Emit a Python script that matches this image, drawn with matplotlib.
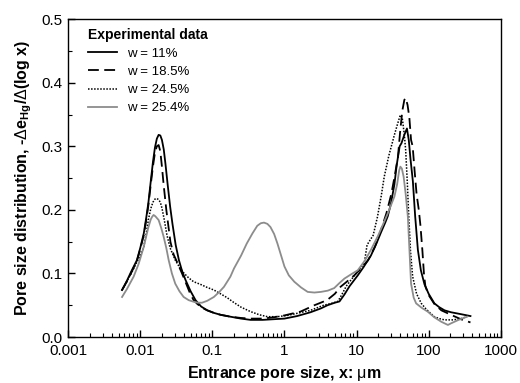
import numpy as np
import matplotlib.pyplot as plt
from matplotlib.ticker import LogLocator, MultipleLocator, FixedLocator

plt.rcParams['font.family'] = ['Liberation Sans', 'DejaVu Sans']
plt.rcParams['mathtext.fontset'] = 'custom'
plt.rcParams['mathtext.rm'] = 'Liberation Sans'
plt.rcParams['mathtext.bf'] = 'Liberation Sans:bold'

# w = 11%
x_11 = [0.0056, 0.0065, 0.0075, 0.0090, 0.0100, 0.0112, 0.0122, 0.0130, 0.0140, 0.0150,
        0.0160, 0.0170, 0.0180, 0.0190, 0.0200, 0.0212, 0.0224, 0.0240, 0.0260, 0.0280,
        0.0310, 0.0344, 0.0380, 0.0424, 0.050, 0.0585, 0.070, 0.085, 0.105, 0.130, 0.178,
        0.25, 0.339, 0.5, 0.7, 1.0, 1.5, 2.3, 3.2, 3.95, 5.0, 5.8, 6.8, 8.0, 10.4, 12.5,
        15.8, 19, 21.9, 25, 27.1, 30, 33.5, 36, 39.6, 42, 46, 50, 53, 56, 60.4, 65, 70.9,
        78, 87.5, 100, 120, 140, 166, 204, 280, 380]
y_11 = [0.074, 0.088, 0.103, 0.121, 0.140, 0.163, 0.190, 0.212, 0.245, 0.275,
        0.298, 0.312, 0.318, 0.317, 0.310, 0.295, 0.272, 0.240, 0.205, 0.178,
        0.145, 0.121, 0.104, 0.090, 0.072, 0.058, 0.048, 0.042, 0.038, 0.035, 0.032,
        0.029, 0.027, 0.027, 0.028, 0.029, 0.033, 0.039, 0.045, 0.050, 0.054, 0.056, 0.067, 0.080, 0.097, 0.110,
        0.128, 0.148, 0.165, 0.180, 0.190, 0.210, 0.240, 0.270, 0.300, 0.305, 0.318, 0.328, 0.310, 0.280, 0.245, 0.190, 0.137,
        0.105, 0.083, 0.068, 0.053, 0.047, 0.042, 0.039, 0.036, 0.033]

# w = 18.5%
x_185 = [0.0056, 0.0065, 0.0075, 0.009, 0.010, 0.0112, 0.0122, 0.013, 0.014, 0.015,
         0.016, 0.017, 0.018, 0.019, 0.020, 0.0211, 0.023, 0.0262, 0.029, 0.0324,
         0.038, 0.043, 0.049, 0.055, 0.062, 0.072, 0.085, 0.105, 0.13, 0.178, 0.25,
         0.339, 0.5, 0.7, 1.0, 1.67, 2.6, 3.9, 5.0, 6.0, 7.5, 9.3, 12, 14.5, 18, 21.8,
         26, 30.5, 34, 37.5, 40, 43, 46, 48, 51, 54, 57, 60, 64, 68, 73, 77, 82, 86, 90,
         100, 120, 150, 204, 280, 380]
y_185 = [0.074, 0.087, 0.101, 0.120, 0.138, 0.160, 0.186, 0.208, 0.240, 0.268,
         0.290, 0.300, 0.302, 0.292, 0.268, 0.240, 0.200, 0.150, 0.130, 0.118,
         0.100, 0.085, 0.069, 0.058, 0.052, 0.046, 0.042, 0.038, 0.035, 0.032, 0.030,
         0.029, 0.029, 0.031, 0.034, 0.040, 0.050, 0.058, 0.068, 0.079, 0.088, 0.097, 0.110, 0.121, 0.142, 0.168,
         0.195, 0.226, 0.255, 0.283, 0.320, 0.355, 0.373, 0.376, 0.365, 0.345, 0.310, 0.300, 0.260, 0.225, 0.200, 0.175, 0.135, 0.100, 0.080,
         0.066, 0.052, 0.042, 0.035, 0.028, 0.023]

# w = 24.5%
x_245 = [0.0055, 0.0065, 0.0075, 0.009, 0.010, 0.0111, 0.012, 0.013, 0.014, 0.015,
         0.016, 0.017, 0.018, 0.019, 0.020, 0.0215, 0.0235, 0.026, 0.0306, 0.035,
         0.040, 0.047, 0.055, 0.068, 0.085, 0.105, 0.13, 0.16, 0.195, 0.25, 0.339,
         0.45, 0.58, 0.8, 1.1, 1.6, 2.3, 3.5, 4.5, 5.5, 6.2, 7.2, 8.4, 10.5, 12.8, 14,
         17, 19.5, 22, 24.2, 28, 33.5, 37, 40.4, 43, 46, 48, 50.5, 53, 56, 60, 68, 79,
         92, 107, 120, 140, 166, 220, 280, 340]
y_245 = [0.073, 0.087, 0.100, 0.118, 0.128, 0.140, 0.160, 0.185, 0.202, 0.212,
         0.217, 0.218, 0.216, 0.212, 0.203, 0.185, 0.160, 0.140, 0.121, 0.110,
         0.101, 0.093, 0.087, 0.083, 0.078, 0.074, 0.068, 0.062, 0.055, 0.047, 0.040,
         0.035, 0.032, 0.032, 0.034, 0.038, 0.042, 0.050, 0.053, 0.056, 0.066, 0.080, 0.090, 0.104, 0.116, 0.145,
         0.160, 0.189, 0.222, 0.252, 0.285, 0.318, 0.335, 0.349, 0.345, 0.318, 0.294, 0.245, 0.189, 0.135, 0.095, 0.068, 0.053,
         0.044, 0.037, 0.032, 0.029, 0.027, 0.027, 0.029, 0.032]

# w = 25.4%
x_254 = [0.0056, 0.0065, 0.0081, 0.0095, 0.0112, 0.0122, 0.013, 0.014, 0.0146, 0.0153,
         0.0162, 0.018, 0.0195, 0.0211, 0.023, 0.0248, 0.0275, 0.0306, 0.035, 0.040,
         0.047, 0.055, 0.063, 0.072, 0.085, 0.105, 0.125, 0.145, 0.178, 0.20, 0.25,
         0.30, 0.36, 0.42, 0.47, 0.52, 0.58, 0.64, 0.72, 0.80, 0.9, 1.0, 1.15, 1.37,
         1.7, 2.1, 2.6, 3.2, 4.0, 4.9, 5.8, 6.8, 8.5, 10.4, 13, 15.8, 20, 27, 33.5,
         36.5, 39, 40.5, 42.5, 45, 48, 51.5, 54, 57, 62, 67, 80, 97, 120, 150, 185,
         204, 260, 340]
y_254 = [0.063, 0.075, 0.095, 0.115, 0.142, 0.160, 0.173, 0.185, 0.189, 0.192,
         0.190, 0.184, 0.172, 0.158, 0.140, 0.121, 0.100, 0.084, 0.072, 0.063,
         0.058, 0.0555, 0.054, 0.054, 0.057, 0.063, 0.071, 0.079, 0.095, 0.108, 0.128,
         0.147, 0.163, 0.175, 0.179, 0.180, 0.178, 0.173, 0.162, 0.147, 0.128, 0.111, 0.097, 0.087,
         0.078, 0.071, 0.070, 0.071, 0.073, 0.077, 0.085, 0.092, 0.099, 0.105, 0.120, 0.137, 0.160, 0.194, 0.221,
         0.240, 0.262, 0.268, 0.265, 0.252, 0.225, 0.189, 0.140, 0.084, 0.062, 0.053, 0.046, 0.040, 0.031, 0.024, 0.019,
         0.0215, 0.027, 0.032]

fig = plt.figure(figsize=(5.2, 3.83), dpi=100)
ax = fig.add_axes([0.131, 0.12, 0.832, 0.83])

ax.plot(x_11, y_11, color='black', lw=1.3, label='w = 11%')
ax.plot(x_185, y_185, color='black', lw=1.3, ls=(0, (6, 3)), label='w = 18.5%')
ax.plot(x_245, y_245, color='black', lw=1.1, ls=(0, (1, 1)), label='w = 24.5%')
ax.plot(x_254, y_254, color='#8c8c8c', lw=1.3, label='w = 25.4%')

ax.set_xscale('log')
ax.set_xlim(0.001, 1000)
ax.set_ylim(0, 0.5)
ax.xaxis.set_major_locator(FixedLocator([0.001, 0.01, 0.1, 1, 10, 100, 1000]))
ax.set_xticklabels(['0.001', '0.01', '0.1', '1', '10', '100', '1000'])
ax.xaxis.set_minor_locator(LogLocator(base=10, subs=np.arange(2, 10), numticks=20))
ax.yaxis.set_major_locator(MultipleLocator(0.1))
ax.yaxis.set_minor_locator(MultipleLocator(0.05))
ax.yaxis.set_major_formatter(plt.FuncFormatter(lambda v, p: f'{v:.1f}'))
ax.tick_params(which='both', direction='in', top=False, right=False, labelsize=11)
ax.tick_params(which='major', length=5, width=1)
ax.tick_params(which='minor', length=3, width=0.8)
ax.tick_params(axis='x', which='minor', labelbottom=False)
ax.tick_params(axis='y', pad=4)
ax.tick_params(axis='x', pad=5)
for s in ax.spines.values():
    s.set_linewidth(1.0)

ax.set_xlabel('Entrance pore size, x: $\\mathrm{\\mu}$m', fontsize=11.5, fontweight='bold', labelpad=4)
ax.set_ylabel('Pore size distribution, -$\\Delta$e$_{\\mathbf{Hg}}$/$\\Delta$(log x)',
              fontsize=11.5, fontweight='bold', labelpad=5)

leg = ax.legend(loc='upper left', frameon=False, fontsize=9.5, title='Experimental data',
                title_fontproperties={'weight': 'bold', 'size': 10},
                handlelength=2.2, handletextpad=0.8, labelspacing=0.45,
                bbox_to_anchor=(0.025, 1.0), borderaxespad=0.25)
leg._legend_box.align = 'left'

fig.savefig('out.png', dpi=100)
